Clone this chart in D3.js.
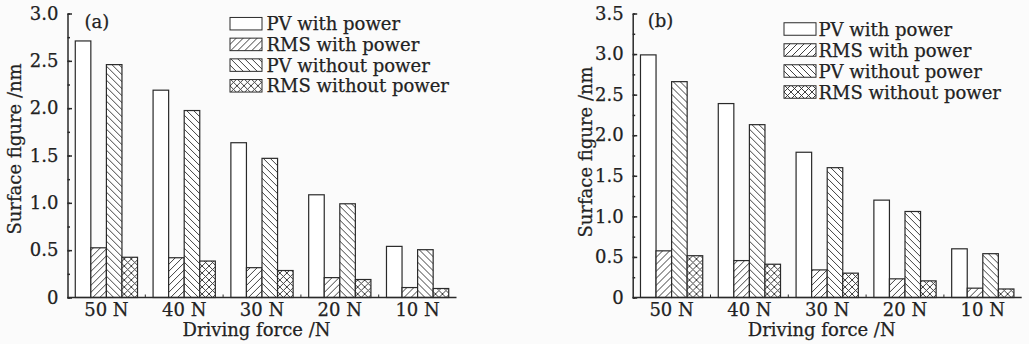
<!DOCTYPE html>
<html>
<head>
<meta charset="utf-8">
<script src="https://cdn.jsdelivr.net/npm/d3@7"></script>
<style>
  body { margin: 0; background: #fbfbfb; }
  svg { display: block; }
  text { font-family: 'DejaVu Serif', serif; fill: #222; stroke: #222; stroke-width: 0.25px; }
</style>
</head>
<body>
<script>
// data
var categories = ['50 N', '40 N', '30 N', '20 N', '10 N']
var seriesNames = ['PV with power', 'RMS with power', 'PV without power', 'RMS without power']

// panel (a)
var pvWithA = [2.71, 2.19, 1.635, 1.085, 0.54]
var rmsWithA = [0.525, 0.42, 0.315, 0.21, 0.105]
var pvWithoutA = [2.46, 1.975, 1.47, 0.99, 0.505]
var rmsWithoutA = [0.425, 0.385, 0.285, 0.19, 0.095]
var yTicksA = [0, 0.5, 1.0, 1.5, 2.0, 2.5, 3.0]

// panel (b)
var pvWithB = [2.99, 2.39, 1.79, 1.2, 0.6]
var rmsWithB = [0.575, 0.455, 0.34, 0.23, 0.115]
var pvWithoutB = [2.66, 2.13, 1.6, 1.06, 0.54]
var rmsWithoutB = [0.515, 0.41, 0.3, 0.205, 0.105]
var yTicksB = [0, 0.5, 1.0, 1.5, 2.0, 2.5, 3.0, 3.5]

var w = 1029
var h = 344
var ink = '#2a2a2a'

var svg = d3.select('body')
  .append('svg')
  .attr('width', w)
  .attr('height', h)

// hatch patterns
var defs = svg.append('defs')
var hatchPaths = {
  fwd: 'M-1,1 l2,-2 M0,7 l7,-7 M6,8 l2,-2',
  back: 'M-1,6 l2,2 M0,0 l7,7 M6,-1 l2,2',
  cross: 'M-1,1 l2,-2 M0,7 l7,-7 M6,8 l2,-2 M-1,6 l2,2 M0,0 l7,7 M6,-1 l2,2'
}
Object.keys(hatchPaths).forEach(function (k) {
  var p = defs.append('pattern')
    .attr('id', 'hatch-' + k)
    .attr('patternUnits', 'userSpaceOnUse')
    .attr('width', 7)
    .attr('height', 7)
  p.append('rect').attr('width', 7).attr('height', 7).attr('fill', '#fff')
  p.append('path').attr('d', hatchPaths[k])
    .attr('stroke', ink).attr('stroke-width', 0.9)
})
var fills = ['#fff', 'url(#hatch-fwd)', 'url(#hatch-back)', 'url(#hatch-cross)']

var fmt = function (d) { return d === 0 ? '0' : d3.format('.1f')(d) }

function drawPanel (opts) {
  var rows = categories.map(function (c, i) {
    return { cat: c, vals: opts.series.map(function (s) { return s[i] }) }
  })

  var x0 = d3.scaleBand()
    .domain(categories)
    .range([opts.left, opts.right])
    .paddingInner(0.2)
    .paddingOuter(0.1)

  var x1 = d3.scaleBand()
    .domain(d3.range(seriesNames.length))
    .range([0, x0.bandwidth()])

  var y = d3.scaleLinear()
    .domain([0, opts.yMax])
    .range([297.5, 13.5])

  var g = svg.append('g')

  // bars
  g.selectAll('g.grp')
    .data(rows)
    .enter()
    .append('g')
    .attr('class', 'grp')
    .attr('transform', function (d) { return 'translate(' + x0(d.cat) + ',0)' })
    .selectAll('rect')
    .data(function (d) { return d.vals })
    .enter()
    .append('rect')
    .attr('x', function (d, i) { return x1(i) })
    .attr('y', function (d) { return y(d) })
    .attr('width', x1.bandwidth())
    .attr('height', function (d) { return y(0) - y(d) })
    .attr('fill', function (d, i) { return fills[i] })
    .attr('stroke', ink)
    .attr('stroke-width', 1.2)

  // y axis, minor ticks first
  var minor = d3.range(0, opts.yMax + 0.001, 0.25)
  g.append('g')
    .attr('transform', 'translate(' + opts.left + ',0)')
    .call(d3.axisLeft(y).tickValues(minor).tickSize(-2.5).tickFormat(''))
    .call(function (a) { a.select('.domain').remove() })
  var ya = g.append('g')
    .attr('transform', 'translate(' + opts.left + ',0)')
    .call(d3.axisLeft(y).tickValues(opts.yTicks).tickSizeInner(-4.5).tickSizeOuter(0).tickPadding(9).tickFormat(fmt))
  ya.selectAll('text').attr('font-size', '18px').attr('fill', ink)
    .style('font-family', "'DejaVu Serif', serif")

  // x axis
  var xa = g.append('g')
    .attr('transform', 'translate(0,' + y(0) + ')')
    .call(d3.axisBottom(x0).tickSize(0).tickPadding(6))
  xa.select('.domain').attr('d', 'M' + opts.left + ',0H' + opts.right)
  xa.selectAll('text').attr('font-size', '18px').attr('fill', ink)
    .style('font-family', "'DejaVu Serif', serif")

  // small ticks between groups
  var step = x0.step()
  g.selectAll('line.sep')
    .data(categories.slice(1))
    .enter()
    .append('line')
    .attr('class', 'sep')
    .attr('x1', function (d) { return x0(d) - step * 0.1 })
    .attr('x2', function (d) { return x0(d) - step * 0.1 })
    .attr('y1', y(0))
    .attr('y2', y(0) - 3)
    .attr('stroke', ink)

  g.selectAll('.domain, .tick line').attr('stroke', ink).attr('stroke-width', 1.5)

  // axis titles
  g.append('text')
    .attr('transform', 'translate(' + opts.yTitleX + ',' + opts.yTitleY + ') rotate(-90)')
    .attr('text-anchor', 'middle')
    .attr('font-size', '18px')
    .text('Surface figure /nm')
  g.append('text')
    .attr('x', opts.left + 189)
    .attr('y', 336)
    .attr('text-anchor', 'middle')
    .attr('font-size', '18px')
    .text('Driving force /N')

  // panel label
  g.append('text')
    .attr('x', opts.left + opts.labelDx)
    .attr('y', opts.labelY)
    .attr('font-size', '18px')
    .text(opts.label)

  // legend
  var leg = g.selectAll('g.leg')
    .data(seriesNames)
    .enter()
    .append('g')
    .attr('class', 'leg')
    .attr('transform', function (d, i) { return 'translate(' + opts.legX + ',' + (opts.legY + i * opts.legStep) + ')' })
  leg.append('rect')
    .attr('x', 0)
    .attr('y', -6.25)
    .attr('width', 32)
    .attr('height', 12.5)
    .attr('fill', function (d, i) { return fills[i] })
    .attr('stroke', ink)
    .attr('stroke-width', 1)
  leg.append('text')
    .attr('x', opts.legTextDx)
    .attr('y', 6.5)
    .attr('font-size', '18px')
    .text(function (d) { return d })
}

drawPanel({
  series: [pvWithA, rmsWithA, pvWithoutA, rmsWithoutA],
  yMax: 3.0,
  yTicks: yTicksA,
  left: 67.5,
  right: 456.5,
  yTitleX: 21,
  yTitleY: 149,
  label: '(a)',
  labelDx: 17,
  labelY: 28,
  legX: 230,
  legY: 23.7,
  legStep: 20.7,
  legTextDx: 36.5
})

drawPanel({
  series: [pvWithB, rmsWithB, pvWithoutB, rmsWithoutB],
  yMax: 3.5,
  yTicks: yTicksB,
  left: 632.7,
  right: 1021.7,
  yTitleX: 592,
  yTitleY: 152,
  label: '(b)',
  labelDx: 15,
  labelY: 27,
  legX: 784,
  legY: 29,
  legStep: 21,
  legTextDx: 34.5
})
</script>
</body>
</html>
